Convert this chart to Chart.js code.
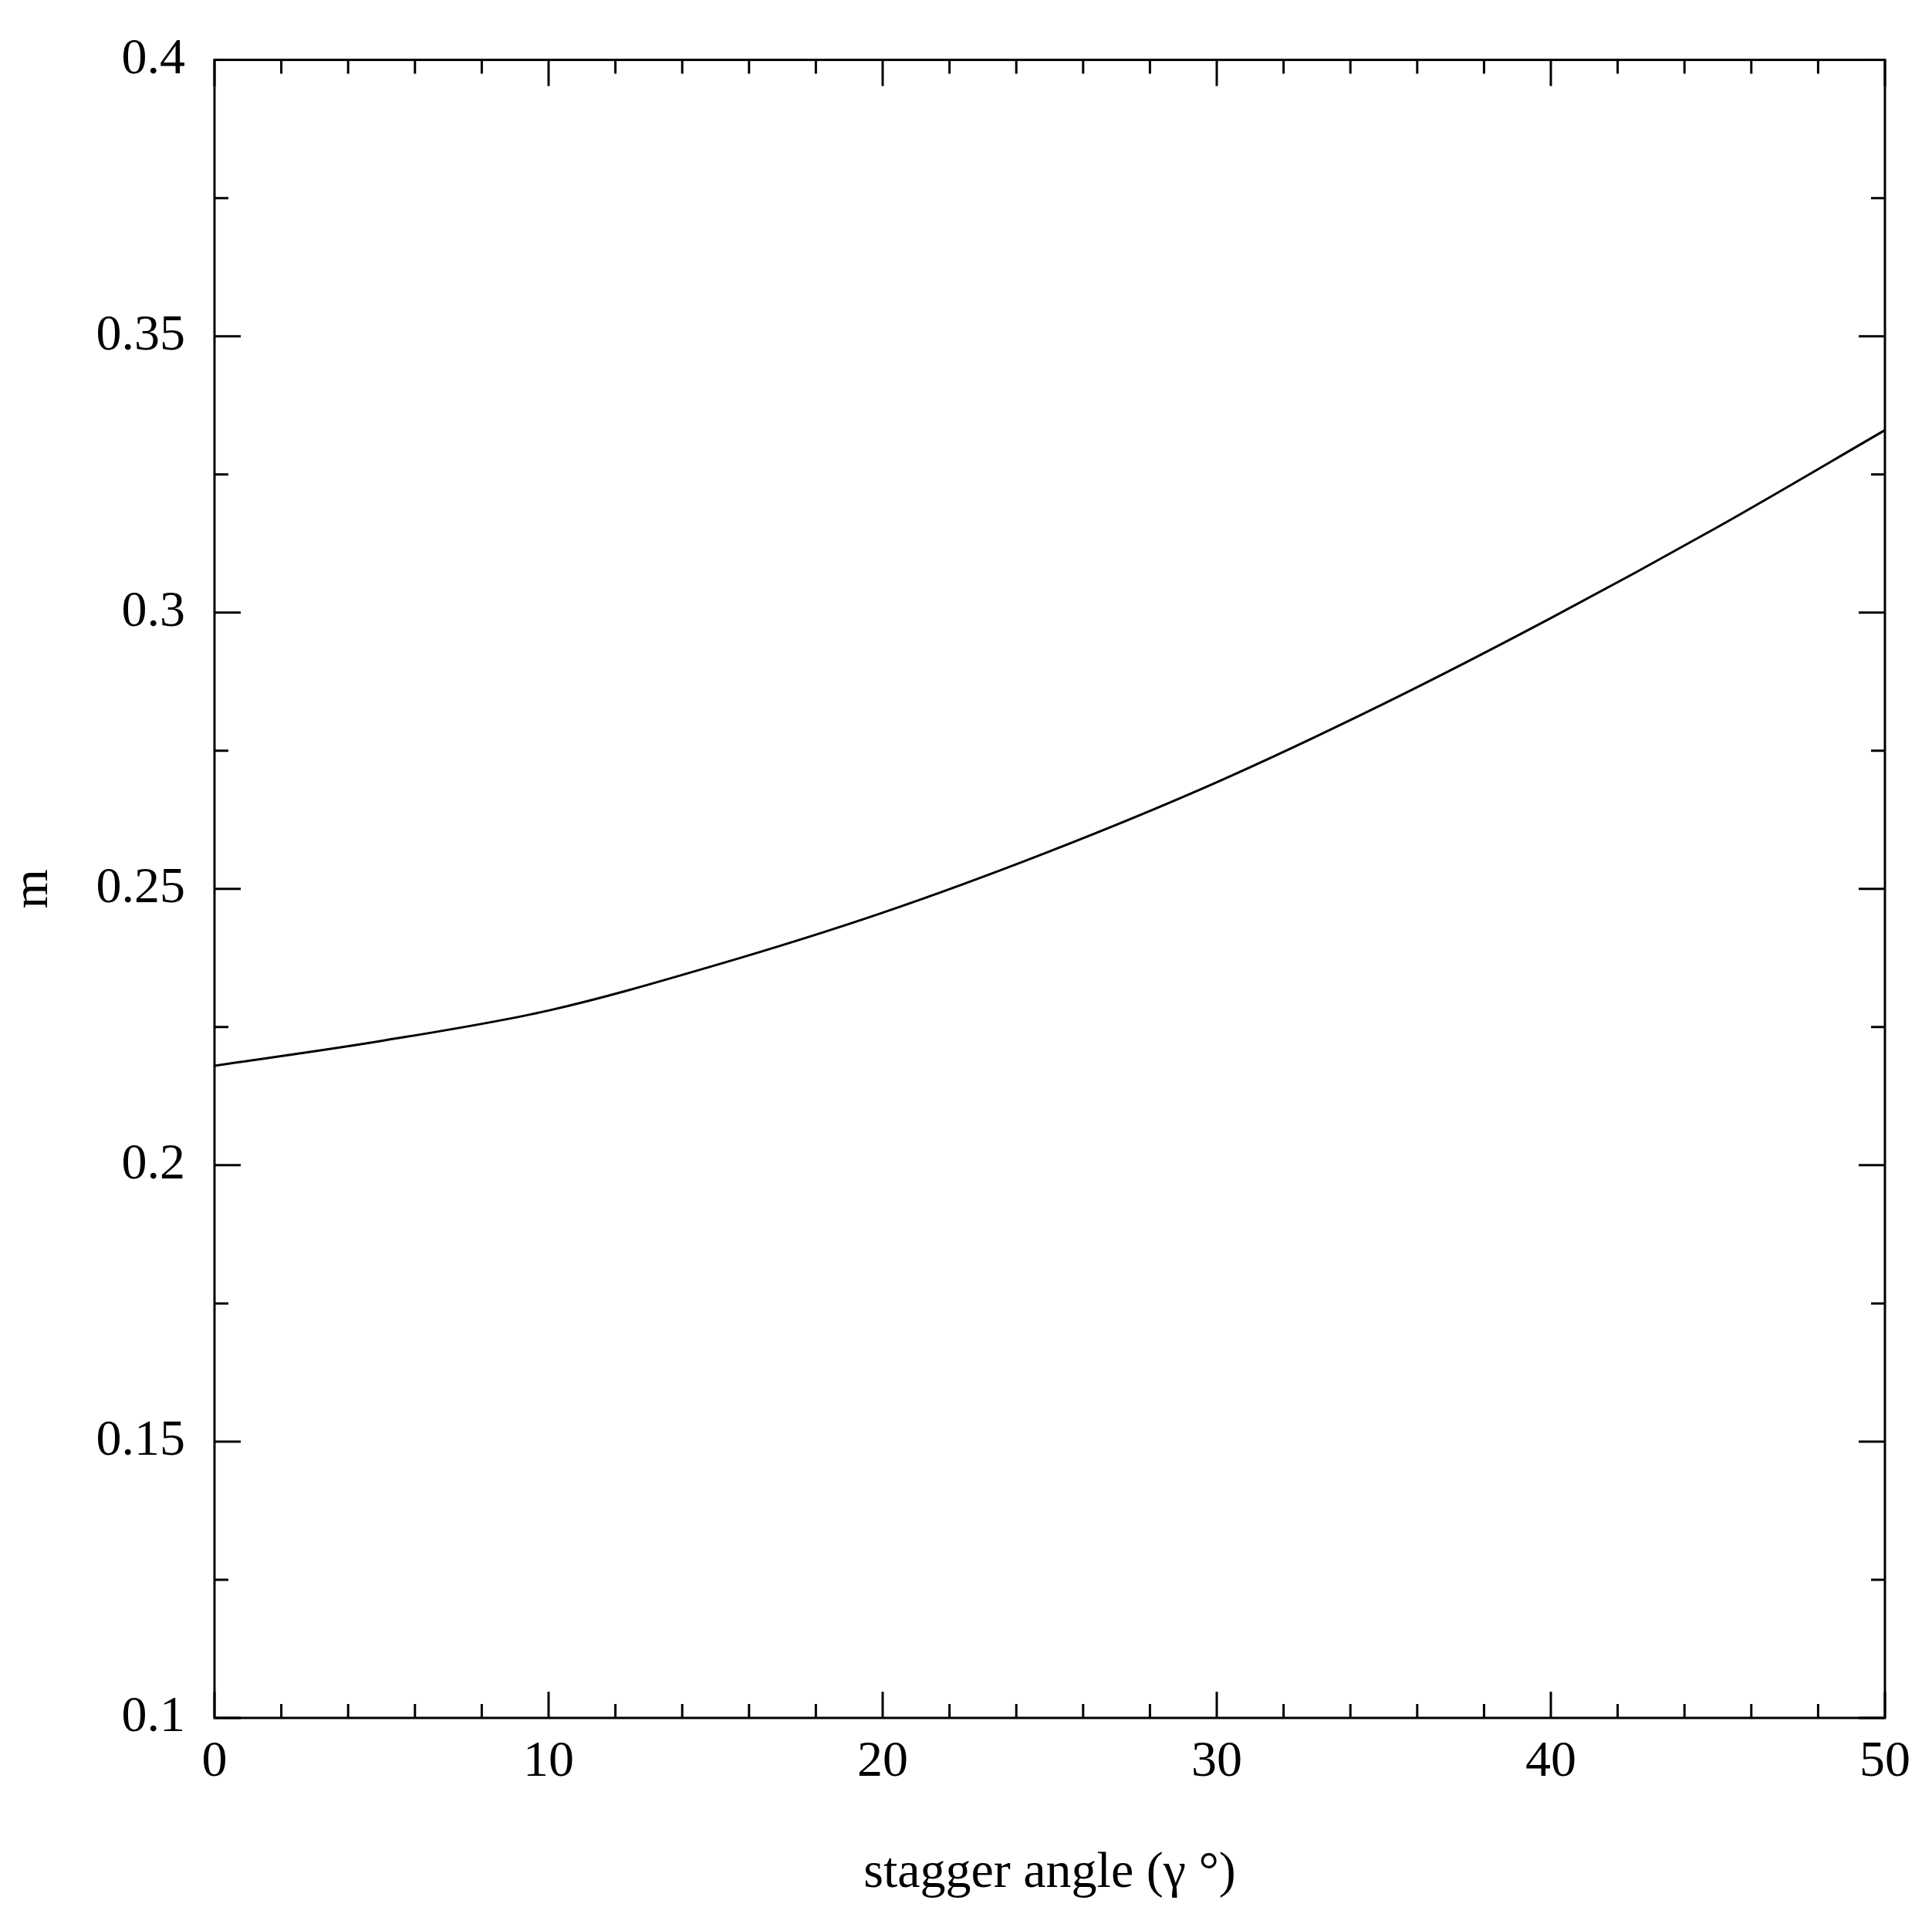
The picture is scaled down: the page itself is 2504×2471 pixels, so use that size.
<!DOCTYPE html>
<html>
<head>
<meta charset="utf-8">
<script src="https://cdn.jsdelivr.net/npm/chart.js@4"></script>
<style>
  html, body { margin: 0; padding: 0; background: #fff; }
  #wrap { width: 2504px; height: 2471px; }
</style>
</head>
<body>
<div id="wrap"><canvas id="c"></canvas></div>
<script>
// ── Data ──
const angles = [0, 5, 10, 15, 20, 25, 30, 35, 40, 45, 50];
const mValues = [0.218, 0.2225, 0.228, 0.2362, 0.2457, 0.2568, 0.2693, 0.2835, 0.2990, 0.3155, 0.333];
const xMajor = [0, 10, 20, 30, 40, 50];
const xMinorStep = 2;
const yMajor = [0.1, 0.15, 0.2, 0.25, 0.3, 0.35, 0.4];
const yMinorStep = 0.025;

const FONT = 'Liberation Serif';

// inward ticks on all four sides, drawn through the scales
const inwardTicks = {
  id: 'inwardTicks',
  afterDraw(chart) {
    const { ctx, chartArea: a, scales: { x, y } } = chart;
    ctx.save();
    ctx.strokeStyle = '#000';
    ctx.lineWidth = 3;
    ctx.strokeRect(a.left, a.top, a.right - a.left, a.bottom - a.top);
    ctx.beginPath();
    for (let v = 0; v <= 50 + 1e-9; v += xMinorStep) {
      const px = x.getPixelForValue(v);
      const len = xMajor.includes(v) ? 34 : 18;
      ctx.moveTo(px, a.bottom); ctx.lineTo(px, a.bottom - len);
      ctx.moveTo(px, a.top); ctx.lineTo(px, a.top + len);
    }
    for (let i = 0; i <= 12; i++) {
      const v = 0.1 + i * yMinorStep;
      const py = y.getPixelForValue(v);
      const len = i % 2 === 0 ? 34 : 18;
      ctx.moveTo(a.left, py); ctx.lineTo(a.left + len, py);
      ctx.moveTo(a.right, py); ctx.lineTo(a.right - len, py);
    }
    ctx.stroke();
    ctx.restore();
  }
};

new Chart(document.getElementById('c'), {
  type: 'line',
  data: {
    datasets: [{
      data: angles.map((a, i) => ({ x: a, y: mValues[i] })),
      borderColor: '#000', borderWidth: 3, pointRadius: 0,
      cubicInterpolationMode: 'monotone', fill: false
    }]
  },
  options: {
    responsive: true, maintainAspectRatio: false, animation: false,
    layout: { padding: { top: 59, right: 61, left: 0, bottom: 0 } },
    plugins: { legend: { display: false }, tooltip: { enabled: false } },
    scales: {
      x: {
        type: 'linear', min: 0, max: 50,
        afterBuildTicks: s => { s.ticks = xMajor.map(v => ({ value: v })); },
        afterFit: s => { s.height = 245; },
        grid: { display: false, drawTicks: false },
        border: { display: false },
        ticks: { color: '#000', padding: 18, font: { family: FONT, size: 66 } },
        title: { display: true, text: 'stagger angle (γ °)', color: '#000', padding: { top: 12 }, font: { family: FONT, size: 66 } }
      },
      y: {
        type: 'linear', min: 0.1, max: 0.4,
        afterBuildTicks: s => { s.ticks = yMajor.map(v => ({ value: v })); },
        afterFit: s => { s.width = 278; },
        grid: { display: false, drawTicks: false },
        border: { display: false },
        ticks: { color: '#000', padding: 38, font: { family: FONT, size: 66 }, callback: v => String(+v.toFixed(2)) },
        title: { display: true, text: 'm', color: '#000', padding: { bottom: 0 }, font: { family: FONT, size: 66 } }
      }
    }
  },
  plugins: [inwardTicks]
});
</script>
</body>
</html>
